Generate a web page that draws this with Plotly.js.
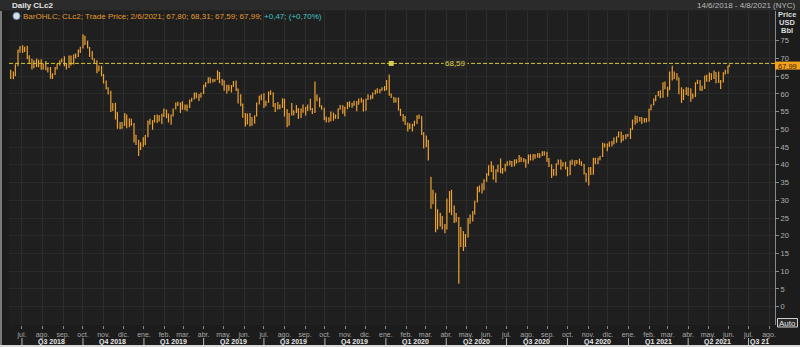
<!DOCTYPE html>
<html>
<head>
<meta charset="utf-8">
<script src="https://cdn.plot.ly/plotly-3.0.1.min.js"></script>
<style>
  html, body { margin: 0; padding: 0; background: #1a1a1a; }
  #chart { width: 800px; height: 347px; }
</style>
</head>
<body>
<div id="chart"></div>
<script>
// ---------------- DATA (half-week OHLC bars of CLc2) ----------------
const firstBarDate = '2018-06-14';
const lastBarDate = '2021-06-02';
const open = [
66.0,64.8,65.6,68.2,72.1,72.8,72.6,72.9,70.2,69.6, 67.6,69.2,69.0,68.0,67.3,68.2,66.8,67.2,64.8,65.5,
67.4,68.3,69.1,69.5,68.2,67.5,70.5,68.7,70.9,70.6, 72.0,73.0,76.2,74.2,73.0,71.3,69.8,69.2,66.9,67.5,
65.3,63.1,61.6,60.2,55.8,56.6,54.7,50.6,50.5,51.1, 53.3,52.7,51.3,51.4,48.3,45.9,44.8,45.6,47.2,48.2,
52.1,51.8,52.5,53.9,52.7,53.8,54.2,55.4,54.2,52.9, 54.0,55.8,57.0,57.4,56.9,56.0,56.4,56.2,58.1,58.6,
60.2,59.1,59.4,60.2,62.4,63.1,64.5,63.9,63.8,64.1, 66.0,63.3,63.7,62.0,61.7,61.7,62.1,62.8,61.3,58.6,
57.0,53.6,51.8,54.0,51.2,52.6,53.8,57.4,59.3,58.5, 57.1,57.6,60.3,60.3,56.8,55.8,56.8,56.2,58.4,55.6,
51.2,54.4,55.3,54.9,55.5,54.0,55.6,55.0,56.2,56.4, 55.7,54.8,59.1,58.1,56.4,55.8,52.9,52.8,52.6,54.6,
53.3,53.7,55.8,56.5,54.9,56.1,57.0,57.2,57.2,57.8, 57.1,57.8,58.2,55.3,58.5,59.3,58.8,60.1,60.9,60.4,
61.1,61.6,61.2,63.0,59.8,59.0,57.9,58.5,55.5,54.1, 53.4,51.6,50.9,50.5,51.4,52.2,53.5,53.6,48.9,45.1,
46.9,36.5,32.6,32.0,22.8,24.2,25.5,22.6,22.1,29.8, 29.0,27.0,25.0,25.0,17.0,21.2,17.0,20.0,24.2,25.4,
26.2,29.7,33.6,33.4,33.9,35.6,37.4,39.7,39.7,36.6, 38.6,39.8,38.1,38.7,40.0,40.8,40.9,40.7,41.4,40.8,
42.0,41.5,41.4,40.5,42.4,41.5,42.9,42.3,43.1,42.6, 43.6,43.2,41.7,40.0,38.3,37.5,40.3,41.3,39.8,40.4,
39.2,37.2,40.2,40.8,41.2,41.1,40.3,40.1,37.6,35.9, 39.1,37.4,41.6,40.3,41.9,42.4,45.9,45.7,45.5,46.4,
45.9,46.7,47.9,49.2,46.9,48.2,48.4,48.6,50.0,52.3, 53.1,52.4,53.3,52.3,52.8,52.3,55.6,56.9,58.5,59.5,
60.6,59.2,63.1,61.5,61.2,66.0,64.3,65.5,64.5,61.4, 61.1,60.9,60.1,61.4,59.5,59.3,63.1,63.2,61.3,62.1,
65.0,63.6,65.6,64.7,66.0,65.2,63.3,63.4,65.9,66.3, 67.80
];
const high = [
66.8,66.3,68.3,72.5,73.5,73.7,73.3,73.6,70.9,69.9, 69.5,70.0,69.6,69.8,68.6,69.3,67.5,67.6,65.8,67.6,
68.6,69.5,70.0,70.6,68.6,70.8,70.8,71.2,71.4,72.5, 73.3,76.8,76.4,75.0,73.2,72.1,70.0,69.5,68.0,67.9,
65.6,63.8,61.9,60.9,57.4,57.5,54.8,52.1,52.1,54.6, 54.2,53.1,53.0,51.8,48.5,47.1,46.4,47.8,48.4,52.5,
53.0,52.6,54.0,54.2,54.0,54.4,55.9,55.6,54.5,54.2, 55.9,57.6,57.8,57.6,57.9,57.0,57.0,58.4,58.9,60.3,
60.4,60.0,60.4,62.6,63.3,64.6,64.6,64.3,64.2,66.7, 66.2,64.2,63.8,62.6,62.6,62.5,63.6,63.8,61.5,59.9,
57.3,54.6,54.5,54.6,53.5,54.0,57.6,59.5,59.9,60.2, 58.1,60.7,61.0,60.4,57.4,57.7,57.0,58.8,58.6,55.7,
54.6,57.4,55.3,56.9,56.0,55.9,57.0,56.4,57.0,58.6, 56.0,63.5,59.8,59.0,56.8,56.1,53.6,53.4,55.0,54.7,
54.2,55.9,56.9,56.8,56.4,57.7,57.9,57.5,58.1,58.0, 58.7,58.9,58.4,58.6,59.9,59.6,60.4,61.2,61.6,61.4,
61.9,62.2,63.9,65.5,60.1,59.1,58.9,59.0,55.8,54.3, 53.8,51.9,51.7,51.5,52.4,54.0,54.2,53.7,49.2,48.3,
47.0,36.6,33.0,32.0,27.5,26.5,25.6,23.3,30.5,32.6, 33.0,28.5,26.4,25.3,22.5,21.3,20.5,25.0,26.0,27.0,
29.9,33.8,34.2,34.8,35.9,37.6,39.9,41.0,39.8,38.7, 40.0,41.8,39.1,40.3,41.0,41.2,41.1,41.5,41.6,42.8,
42.2,41.9,41.6,42.9,43.0,43.0,43.0,43.3,43.2,43.8, 43.8,43.7,41.9,40.1,38.8,40.4,41.5,41.4,40.7,40.9,
39.4,41.2,41.5,41.3,41.3,41.7,41.0,40.2,37.7,39.3, 39.4,42.0,42.0,42.0,42.5,46.2,46.0,46.0,46.6,46.7,
47.7,48.0,49.4,49.3,48.4,48.6,48.7,50.3,52.8,53.9, 53.8,53.5,53.4,53.2,53.2,55.8,57.0,58.7,59.6,60.8,
61.0,63.3,63.5,62.0,66.3,67.9,66.3,65.8,64.6,61.9, 61.3,61.9,61.8,61.5,60.1,63.3,64.0,63.9,62.3,65.2,
65.4,66.0,65.8,66.6,66.1,66.3,63.9,66.1,66.8,67.9, 68.31
];
const low = [
64.2,64.1,65.0,67.8,71.6,71.5,71.8,69.8,68.5,66.9, 67.2,67.6,67.5,66.8,66.9,66.7,66.0,64.3,64.2,65.3,
66.9,68.0,68.9,67.8,66.9,67.3,68.0,68.3,70.0,70.4, 71.5,72.8,73.8,72.8,70.4,69.6,68.5,65.8,66.3,65.0,
62.9,61.3,59.8,54.9,55.2,52.8,50.2,50.0,50.2,51.0, 50.3,50.6,51.0,46.3,45.6,42.5,44.2,45.0,45.6,47.8,
51.3,49.9,51.9,51.8,52.2,51.5,53.5,53.1,51.9,51.3, 53.6,55.6,56.6,54.6,55.5,55.4,55.1,56.0,57.8,58.5,
58.8,58.0,58.9,60.0,61.9,63.0,63.0,63.2,63.4,64.0, 63.0,62.4,60.9,60.1,60.8,60.4,62.0,60.8,57.3,56.5,
53.3,50.8,51.4,50.8,51.0,51.6,53.6,57.0,58.2,56.0, 56.5,57.5,59.7,56.3,54.9,55.6,55.7,56.1,53.6,50.6,
51.1,53.9,53.9,54.6,52.9,53.2,54.7,53.9,55.2,55.4, 54.3,54.7,57.9,56.2,55.5,52.6,51.9,51.9,52.3,52.4,
53.0,52.9,55.5,54.4,53.7,55.7,56.2,56.1,56.6,55.1, 57.0,57.6,55.0,55.3,58.3,58.4,58.6,59.8,60.2,60.2,
60.9,60.8,61.0,59.5,58.9,57.5,57.6,55.3,53.8,52.2, 51.2,49.4,50.1,49.4,50.9,51.5,52.9,48.4,44.6,45.0,
41.2,27.6,28.9,21.0,21.8,22.6,21.8,20.7,21.8,26.5, 25.8,23.6,23.8,6.5,16.8,15.7,16.8,19.5,23.4,24.0,
26.0,29.4,32.3,31.9,32.8,35.2,36.9,38.0,35.8,35.0, 37.9,37.6,37.5,38.1,39.7,39.8,39.4,39.6,40.4,40.7,
40.8,40.7,39.2,40.3,41.2,41.2,41.7,42.0,41.9,42.5, 42.6,40.9,39.4,36.3,36.9,36.9,40.0,38.6,39.5,38.7,
36.8,37.1,40.0,39.6,40.2,40.0,39.7,37.3,35.1,34.2, 37.1,37.3,40.2,40.2,41.3,42.2,44.9,43.8,45.0,45.2,
45.8,46.2,47.8,46.2,46.8,47.2,47.9,47.3,49.9,51.3, 51.8,52.2,51.5,51.9,51.9,52.2,55.4,56.8,57.9,59.3,
58.8,58.9,61.3,59.2,61.0,63.8,64.2,63.8,59.9,57.4, 58.3,59.7,59.4,57.8,58.6,59.1,62.8,60.9,60.8,61.4,
63.4,63.4,63.9,64.2,63.0,63.1,61.4,63.2,65.5,65.7, 67.59
];
const close = [
64.8,65.6,68.2,72.1,72.8,72.6,72.9,70.2,69.6,67.6, 69.2,69.0,68.0,67.3,68.2,66.8,67.2,64.8,65.5,67.4,
68.3,69.1,69.5,68.2,67.5,70.5,68.7,70.9,70.6,72.0, 73.0,76.2,74.2,73.0,71.3,69.8,69.2,66.9,67.5,65.3,
63.1,61.6,60.2,55.8,56.6,54.7,50.6,50.5,51.1,53.3, 52.7,51.3,51.4,48.3,45.9,44.8,45.6,47.2,48.2,52.1,
51.8,52.5,53.9,52.7,53.8,54.2,55.4,54.2,52.9,54.0, 55.8,57.0,57.4,56.9,56.0,56.4,56.2,58.1,58.6,60.2,
59.1,59.4,60.2,62.4,63.1,64.5,63.9,63.8,64.1,66.0, 63.3,63.7,62.0,61.7,61.7,62.1,62.8,61.3,58.6,57.0,
53.6,51.8,54.0,51.2,52.6,53.8,57.4,59.3,58.5,57.1, 57.6,60.3,60.3,56.8,55.8,56.8,56.2,58.4,55.6,51.2,
54.4,55.3,54.9,55.5,54.0,55.6,55.0,56.2,56.4,55.7, 54.8,59.1,58.1,56.4,55.8,52.9,52.8,52.6,54.6,53.3,
53.7,55.8,56.5,54.9,56.1,57.0,57.2,57.2,57.8,57.1, 57.8,58.2,55.3,58.5,59.3,58.8,60.1,60.9,60.4,61.1,
61.6,61.2,63.0,59.8,59.0,57.9,58.5,55.5,54.1,53.4, 51.6,50.9,50.5,51.4,52.2,53.5,53.6,48.9,45.1,46.9,
41.6,32.6,32.0,22.8,24.2,25.5,22.6,22.1,29.8,29.0, 27.0,25.0,25.0,11.6,21.2,17.0,20.0,24.2,25.4,26.2,
29.7,33.6,33.4,33.9,35.6,37.4,39.7,39.7,36.6,38.6, 39.8,38.1,38.7,40.0,40.8,40.9,40.7,41.4,40.8,42.0,
41.5,41.4,40.5,42.4,41.5,42.9,42.3,43.1,42.6,43.6, 43.2,41.7,40.0,38.3,37.5,40.3,41.3,39.8,40.4,39.2,
37.2,40.2,40.8,41.2,41.1,40.3,40.1,37.6,35.9,39.1, 37.4,41.6,40.3,41.9,42.4,45.9,45.7,45.5,46.4,45.9,
46.7,47.9,49.2,46.9,48.2,48.4,48.6,50.0,52.3,53.1, 52.4,53.3,52.3,52.8,52.3,55.6,56.9,58.5,59.5,60.6,
59.2,63.1,61.5,61.2,66.0,64.3,65.5,64.5,61.4,61.1, 60.9,60.1,61.4,59.5,59.3,63.1,63.2,61.3,62.1,65.0,
63.6,65.6,64.7,66.0,65.2,63.3,63.4,65.9,66.3,67.52, 67.99
];
const refLevel = 68.59;          // horizontal reference line
const refAnchorDate = '2020-01-09';
const monthNames = ['ene.','feb.','mar.','abr.','may.','jun.','jul.','ago.','sep.','oct.','nov.','dic.'];
const quarterLabels = ['Q3 2018','Q4 2018','Q1 2019','Q2 2019','Q3 2019','Q4 2019','Q1 2020','Q2 2020','Q3 2020','Q4 2020','Q1 2021','Q2 2021','Q3 21'];
const yTicks = [0,5,10,15,20,25,30,35,40,45,50,55,60,65,70,75];

// ---------------- dates of the bars (Thu / Mon alternating) ----------------
const n = close.length;
const dates = [];
const t0 = Date.parse(firstBarDate + 'T00:00:00Z');
for (let i = 0; i < n; i++) {
  const dd = Math.floor(i / 2) * 7 + (i % 2) * 4;
  dates.push(new Date(t0 + dd * 86400000).toISOString().slice(0, 10));
}
dates[n - 1] = lastBarDate;

// ---------------- geometry helpers ----------------
const W = 800, H = 347;
const M = {l: 9, r: 25, t: 11, b: 22};
const PW = W - M.l - M.r, PH = H - M.t - M.b;
const pxX = px => (px - M.l) / PW;
const pxY = py => (H - M.b - py) / PH;

// ---------------- x ticks: months, quarters ----------------
const tickvals = [], ticktext = [];
for (let k = 0; k < 38; k++) {
  const y = 2018 + Math.floor((6 + k) / 12), m = (6 + k) % 12;
  tickvals.push(`${y}-${String(m + 1).padStart(2, '0')}-01`);
  ticktext.push(monthNames[m]);
}
const fmt = v => v.toFixed(2).replace('.', ',');
const chg = close[n - 1] - close[n - 2];
const pct = chg / close[n - 2] * 100;
const d = lastBarDate.split('-');
const legendTxt = `<span style="color:#e39a2c">BarOHLC; CLc2; Trade Price; ${+d[2]}/${+d[1]}/${d[0]}; ${fmt(open[n-1])}; ${fmt(high[n-1])}; ${fmt(low[n-1])}; ${fmt(close[n-1])};</span> <span style="color:#3fc6c6">${chg >= 0 ? '+' : ''}${fmt(chg)}; (${pct >= 0 ? '+' : ''}${fmt(pct)}%)</span>`;

const FONT = 'Liberation Sans, Arial, sans-serif';
const ORANGE = '#eda234';

const trace = {
  type: 'ohlc',
  x: dates, open: open, high: high, low: low, close: close,
  increasing: {line: {color: ORANGE, width: 1.2}},
  decreasing: {line: {color: ORANGE, width: 1.2}},
  tickwidth: 0.5,
  hoverinfo: 'skip',
  showlegend: false
};

const shapes = [];
const annotations = [];
// header bar
shapes.push({type: 'rect', xref: 'paper', yref: 'paper', x0: pxX(0), x1: pxX(800), y0: pxY(10.5), y1: pxY(0), fillcolor: '#2b2b2b', line: {width: 0}, layer: 'below'});
// bottom light strip
shapes.push({type: 'rect', xref: 'paper', yref: 'paper', x0: pxX(0), x1: pxX(800), y0: pxY(347), y1: pxY(345), fillcolor: '#d8d8d8', line: {width: 0}});
// left frame
shapes.push({type: 'line', xref: 'paper', yref: 'paper', x0: pxX(1), x1: pxX(1), y0: pxY(345), y1: pxY(11), line: {color: '#9a9a9a', width: 1.5}});
// quarter separators and labels
for (let q = 0; q < quarterLabels.length; q++) {
  const y = 2018 + Math.floor((6 + 3 * q) / 12), m = (6 + 3 * q) % 12;
  const qs = `${y}-${String(m + 1).padStart(2, '0')}-01`;
  shapes.push({type: 'line', xref: 'x', yref: 'paper', x0: qs, x1: qs, y0: pxY(345), y1: pxY(338), line: {color: '#bbbbbb', width: 1}});
  const mid = new Date(Date.parse(qs + 'T00:00:00Z') + (q === quarterLabels.length - 1 ? 17 : 45) * 86400000).toISOString().slice(0, 10);
  annotations.push({xref: 'x', yref: 'paper', x: mid, y: pxY(342), text: '<b>' + quarterLabels[q] + '</b>', showarrow: false, font: {family: FONT, size: 7, color: '#e8e8e8'}, xanchor: 'center', yanchor: 'middle'});
}
// reference dashed line + handle + label
shapes.push({type: 'line', xref: 'paper', yref: 'y', x0: 0, x1: 1, y0: refLevel, y1: refLevel, line: {color: '#d6c622', width: 1, dash: '4px,2px'}});
shapes.push({type: 'rect', xref: 'x', yref: 'y', xsizemode: 'pixel', ysizemode: 'pixel', xanchor: refAnchorDate, yanchor: refLevel, x0: -2.5, x1: 2.5, y0: -2.5, y1: 2.5, fillcolor: '#d8cc50', line: {color: '#d8cc50', width: 0}});
annotations.push({xref: 'paper', yref: 'y', x: pxX(455), y: refLevel, text: fmt(refLevel), showarrow: false, font: {family: FONT, size: 8, color: '#e0d24a'}, bgcolor: '#262626', borderpad: 1, xanchor: 'center', yanchor: 'middle'});
// last-price box
shapes.push({type: 'rect', xref: 'paper', yref: 'y', ysizemode: 'pixel', yanchor: close[n - 1], x0: pxX(775), x1: pxX(800), y0: -4, y1: 4, fillcolor: '#f2a21c', line: {width: 0}});
annotations.push({xref: 'paper', yref: 'y', x: pxX(787.5), y: close[n - 1], yshift: -0.5, text: fmt(close[n - 1]), showarrow: false, font: {family: FONT, size: 7.5, color: '#3a1c00'}, xanchor: 'center', yanchor: 'middle'});
// Auto box
shapes.push({type: 'rect', xref: 'paper', yref: 'paper', x0: pxX(777.5), x1: pxX(797.5), y0: pxY(327), y1: pxY(318.5), fillcolor: '#2a2a2a', line: {color: '#cfcfcf', width: 1}});
annotations.push({xref: 'paper', yref: 'paper', x: pxX(787.5), y: pxY(323), text: 'Auto', showarrow: false, font: {family: FONT, size: 8, color: '#e6e6e6'}, xanchor: 'center', yanchor: 'middle'});
// legend icon
shapes.push({type: 'circle', xref: 'paper', yref: 'paper', x0: pxX(13), x1: pxX(20), y0: pxY(19.5), y1: pxY(12.5), fillcolor: '#dcdcdc', line: {color: '#6a9fd8', width: 1}});
// header texts
annotations.push({xref: 'paper', yref: 'paper', x: pxX(10), y: pxY(5.5), text: '<b>Daily CLc2</b>', showarrow: false, font: {family: FONT, size: 8, color: '#e4e4e4'}, xanchor: 'left', yanchor: 'middle'});
annotations.push({xref: 'paper', yref: 'paper', x: pxX(798), y: pxY(5.5), text: '14/6/2018 - 4/8/2021 (NYC)', showarrow: false, font: {family: FONT, size: 8, color: '#b8b8b8'}, xanchor: 'right', yanchor: 'middle'});
annotations.push({xref: 'paper', yref: 'paper', x: pxX(21), y: pxY(16), text: legendTxt, showarrow: false, font: {family: FONT, size: 8, color: '#e39a2c'}, xanchor: 'left', yanchor: 'middle'});
// right axis title
['Price', 'USD', 'Bbl'].forEach((t, i) => {
  annotations.push({xref: 'paper', yref: 'paper', x: pxX(787), y: pxY(14.5 + 8 * i), text: '<b>' + t + '</b>', showarrow: false, font: {family: FONT, size: 7.5, color: '#dcdcdc'}, xanchor: 'center', yanchor: 'middle'});
});

const layout = {
  width: W, height: H,
  margin: M,
  paper_bgcolor: '#1c1c1c',
  plot_bgcolor: '#1f1f1f',
  font: {family: FONT, size: 8, color: '#aaaaaa'},
  showlegend: false,
  xaxis: {
    type: 'date',
    range: ['2018-06-11 10:00', '2021-08-10'],
    rangeslider: {visible: false},
    tickmode: 'array', tickvals: tickvals, ticktext: ticktext,
    tickfont: {family: FONT, size: 7, color: '#a9a9a9'},
    ticks: 'outside', ticklen: 3, tickcolor: '#8a8a8a',
    showgrid: true, gridcolor: '#2d2d2d', gridwidth: 1,
    showline: false, zeroline: false, fixedrange: true
  },
  yaxis: {
    side: 'right',
    range: [-5.16, 83.37],
    tickmode: 'array', tickvals: yTicks, ticktext: yTicks.map(String),
    tickfont: {family: FONT, size: 7.5, color: '#b0b0b0'},
    ticks: 'outside', ticklen: 3, tickcolor: '#8a8a8a',
    showgrid: true, gridcolor: '#2b2b2b', gridwidth: 1,
    showline: true, linecolor: '#8a8a8a', linewidth: 1,
    zeroline: false, fixedrange: true
  },
  shapes: shapes,
  annotations: annotations
};

Plotly.newPlot('chart', [trace], layout, {displayModeBar: false, staticPlot: true});
</script>
</body>
</html>
